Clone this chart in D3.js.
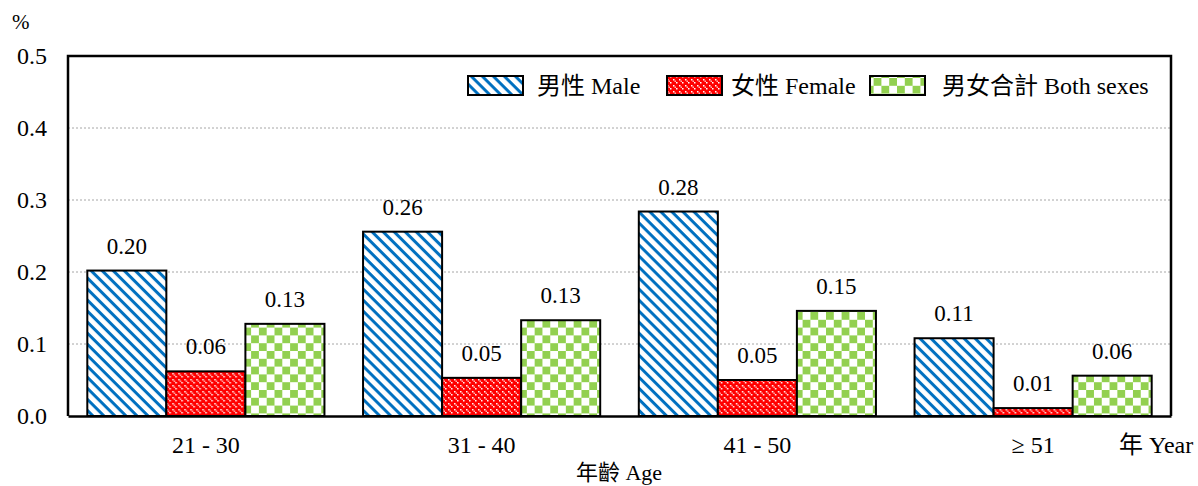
<!DOCTYPE html>
<html><head><meta charset="utf-8">
<script src="https://cdn.jsdelivr.net/npm/d3@7"></script>
<style>
body{margin:0;background:#fff;}
text{font-family:"Liberation Serif","Times New Roman","Noto Sans CJK TC",serif;fill:#000;}
</style></head>
<body><svg id="c" width="1198" height="486"></svg>
<script>
const categories = ["21 - 30", "31 - 40", "41 - 50", "\u2265 51"];
const seriesNames = ["男性 Male", "女性 Female", "男女合計 Both sexes"];
const maleValues = [0.202, 0.256, 0.284, 0.108];
const femaleValues = [0.062, 0.053, 0.050, 0.011];
const bothValues = [0.128, 0.133, 0.146, 0.056];
const yTicks = [0, 0.1, 0.2, 0.3, 0.4, 0.5];

const FONT = "'Liberation Serif','Noto Sans CJK TC',serif";
const svg = d3.select("#c");
const M = {l:68, t:56, r:1171, b:416};
const x = d3.scaleBand().domain(categories).range([M.l, M.r]).paddingInner(0.14).paddingOuter(0.07);
const keys = ["male","female","both"];
const x1 = d3.scaleBand().domain(keys).range([0, x.bandwidth()]);
const y = d3.scaleLinear().domain([0, 0.5]).range([M.b, M.t]);

// patterns
const defs = svg.append("defs");
const pm = defs.append("pattern").attr("id","pMale").attr("patternUnits","userSpaceOnUse")
  .attr("width",7.8).attr("height",7.8).attr("patternTransform","rotate(45)");
pm.append("rect").attr("width",7.8).attr("height",7.8).attr("fill","#fff");
pm.append("rect").attr("x",0).attr("y",0).attr("width",7.8).attr("height",3).attr("fill","#0070C0");

const pf = defs.append("pattern").attr("id","pFemale").attr("patternUnits","userSpaceOnUse")
  .attr("width",6).attr("height",6);
pf.append("rect").attr("width",6).attr("height",6).attr("fill","#FF0000");
pf.append("rect").attr("x",1).attr("y",1).attr("width",1.5).attr("height",1.5).attr("fill","#fff");
pf.append("rect").attr("x",4).attr("y",4).attr("width",1.5).attr("height",1.5).attr("fill","#fff");
pf.append("rect").attr("x",2.5).attr("y",2.5).attr("width",1.5).attr("height",1.5).attr("fill","#ffb0b0");

const pb = defs.append("pattern").attr("id","pBoth").attr("patternUnits","userSpaceOnUse")
  .attr("width",15.6).attr("height",15.6);
pb.append("rect").attr("width",15.6).attr("height",15.6).attr("fill","#fff");
pb.append("rect").attr("x",0).attr("y",0).attr("width",7.8).attr("height",7.8).attr("fill","#92D050");
pb.append("rect").attr("x",7.8).attr("y",7.8).attr("width",7.8).attr("height",7.8).attr("fill","#92D050");

const fills = {male:"url(#pMale)", female:"url(#pFemale)", both:"url(#pBoth)"};

// gridlines
svg.append("g").selectAll("line").data(yTicks.filter(d=>d>0 && d<0.5)).join("line")
  .attr("x1",M.l).attr("x2",M.r).attr("y1",d=>y(d)).attr("y2",d=>y(d))
  .attr("stroke","#a6a6a6").attr("stroke-width",1).attr("stroke-dasharray","2,2");

// y axis labels
const yAxis = d3.axisLeft(y).tickValues(yTicks).tickFormat(d3.format(".1f")).tickSize(0).tickPadding(21);
const ya = svg.append("g").attr("transform",`translate(${M.l},0)`).call(yAxis);
ya.select(".domain").remove();
ya.attr("font-family",null).attr("font-size",null);
ya.selectAll("text").attr("font-size",24).style("font-family",FONT);

svg.append("text").attr("x",12).attr("y",29).attr("font-size",21).text("%");

// bars
const data = categories.map((c,i)=>({cat:c, vals:[
  {k:"male", v:maleValues[i]}, {k:"female", v:femaleValues[i]}, {k:"both", v:bothValues[i]}]}));
const g = svg.append("g").selectAll("g").data(data).join("g")
  .attr("transform", d=>`translate(${x(d.cat)},0)`);
g.selectAll("rect").data(d=>d.vals).join("rect")
  .attr("x", d=>x1(d.k)).attr("width", x1.bandwidth())
  .attr("y", d=>y(d.v)).attr("height", d=>y(0)-y(d.v))
  .attr("fill", d=>fills[d.k]).attr("stroke","#000").attr("stroke-width",2);
g.selectAll("text").data(d=>d.vals).join("text")
  .attr("x", d=>x1(d.k)+x1.bandwidth()/2).attr("y", d=>y(d.v)-17)
  .attr("text-anchor","middle").attr("font-size",23)
  .text(d=>d.v.toFixed(2));

// frame
svg.append("path").attr("d",`M${M.l},${M.b}V${M.t}H${M.r}V${M.b}`)
  .attr("fill","none").attr("stroke","#000").attr("stroke-width",2.5);
// x axis
const xAxis = d3.axisBottom(x).tickSize(0).tickPadding(20);
const xa = svg.append("g").attr("transform",`translate(0,${M.b})`).call(xAxis);
xa.attr("font-family",null).attr("font-size",null);
xa.select(".domain").attr("stroke","#000").attr("stroke-width",2.5);
xa.selectAll("text").attr("font-size",24).style("font-family",FONT);

svg.append("text").attr("x",1119).attr("y",453).attr("font-size",24).text("年 Year");
svg.append("text").attr("x",619).attr("y",480).attr("text-anchor","middle").attr("font-size",22).text("年齡 Age");

// legend
const legendX = [468, 667, 870];
const legendTextX = [537, 731, 942];
const lg = svg.append("g").selectAll("g").data(keys).join("g");
lg.append("rect").attr("x",(d,i)=>legendX[i]).attr("y",76).attr("width",55).attr("height",19)
  .attr("fill",d=>fills[d]).attr("stroke","#000").attr("stroke-width",2);
lg.append("text").attr("x",(d,i)=>legendTextX[i]).attr("y",94).attr("font-size",24)
  .text((d,i)=>seriesNames[i]);
</script></body></html>
